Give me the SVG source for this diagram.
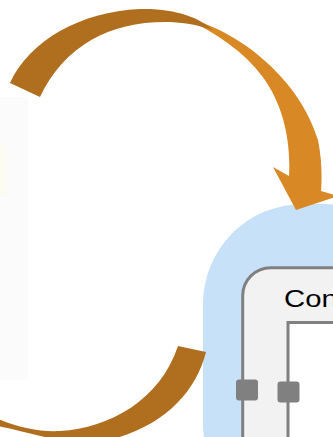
<svg xmlns="http://www.w3.org/2000/svg" width="333" height="437" viewBox="0 0 333 437">
  <style>
    .dark { fill: #b06e1f; }
    .light { fill: #d88925; }
    .frame { fill: #f2f2f2; stroke: #808080; stroke-width: 3; }
    .inner { fill: #ffffff; stroke: #808080; stroke-width: 3; }
    .port { fill: #808080; }
    .label { font-family: "Liberation Sans", Arial, sans-serif; font-size: 24px; fill: #000000; }
  </style>
  <rect width="333" height="437" fill="#ffffff"/>
  <g id="faint-panel">
    <rect x="0" y="97" width="28" height="283" fill="#fbfbfb"/>
    <rect x="0" y="145" width="7" height="50" fill="#fbfbf2"/>
  </g>
  <g id="container">
    <rect x="203" y="204" width="220" height="320" rx="100" ry="100" fill="#c7e1f9"/>
  </g>
  <g id="component">
    <rect class="frame" x="242.7" y="267.7" width="160" height="220" rx="28" ry="28"/>
    <text class="label" transform="translate(284,307) scale(1.22,1)" x="0" y="0">Con</text>
    <rect class="inner" x="288" y="322.5" width="100" height="150"/>
  </g>
  <g id="port-left">
    <rect class="port" x="236" y="379.5" width="22" height="21" rx="3"/>
  </g>
  <g id="port-right">
    <rect class="port" x="277.5" y="381.5" width="22" height="21" rx="3"/>
  </g>
  <g id="connectors">
    <path class="light" d="M183,17 C240,30 300,80 318,140 C322,160 322,178 321,191 L338,196 L296,210 L273,167 L289,176 C291,140 283,104 262,76 C244,52 218,34 183,17 Z"/>
    <path class="dark" d="M10,83 C30,40 80,12 140,9 C175,8 200,18 213,30 C195,24 180,22 165,22 C110,22 65,45 40,97 Z"/>
    <path class="dark" d="M-2,419 C20,428 40,432 60,431 C110,428 160,400 178,346 L206,352 C195,395 160,430 100,442 C70,447 30,432 -2,426 Z"/>
  </g>
</svg>
